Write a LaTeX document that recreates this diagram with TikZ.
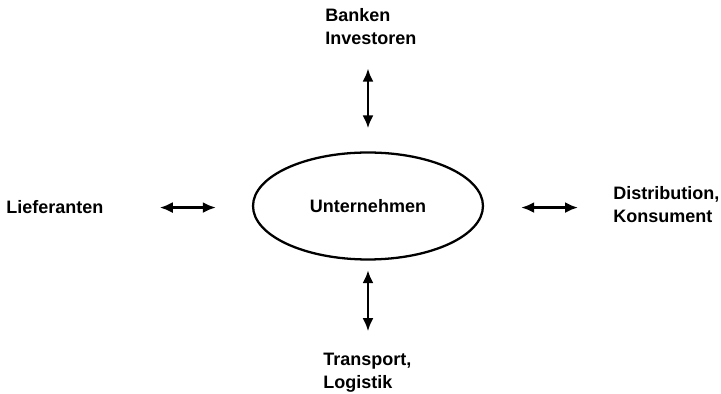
\documentclass[tikz,border=0pt]{standalone}
\usepackage{fontspec}
\setmainfont{Liberation Sans}
\usetikzlibrary{shapes, arrows.meta, positioning, calc}

\begin{document}
\begin{tikzpicture}[x=0.02cm, y=-0.02cm,
    labeltext/.style={font=\bfseries\fontsize{10.25}{13.1}\selectfont, align=left, anchor=base west, inner sep=0pt},
    link/.style={{Latex[length=0.26cm,width=0.22cm]}-{Latex[length=0.26cm,width=0.22cm]}, line width=1.4pt}]

        \useasboundingbox (0,0) rectangle (721,394);

        % ------------------ Centre ------------------

        \node[draw, ellipse, line width=1.3pt, minimum width=4.6cm, minimum height=2.14cm, inner sep=0pt,
              font=\bfseries\fontsize{10.25}{13.1}\selectfont] (firma) at (368,206) {Unternehmen};

        % ------------------ Partners ------------------

        \node[labeltext] (banken) at (325,45) {Banken\\Investoren};
        \node[labeltext] (lieferanten) at (6,214) {Lieferanten};
        \node[labeltext] (distribution) at (613,223) {Distribution,\\Konsument};
        \node[labeltext] (transport) at (323,389) {Transport,\\Logistik};

        % Arrows
        \draw[link, shorten <=0.46cm, shorten >=0.46cm] (firma.north) -- (firma.north |- banken.south);
        \draw[link, shorten <=0.19cm, shorten >=0.44cm] (firma.south) -- (firma.south |- transport.north);
        \draw[link, shorten <=1.12cm, shorten >=0.72cm] (lieferanten.east) -- (lieferanten.east -| firma.west);
        \draw[link, shorten <=0.74cm, shorten >=0.70cm] (firma.east |- lieferanten.east) -- (distribution.west |- lieferanten.east);

    \end{tikzpicture}
\end{document}
